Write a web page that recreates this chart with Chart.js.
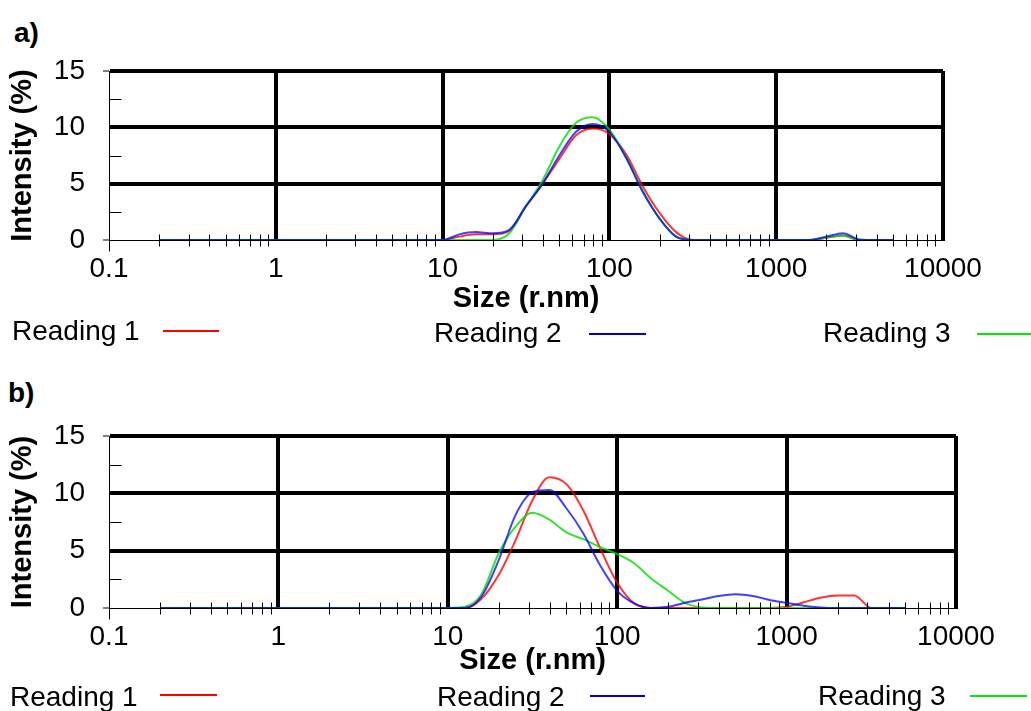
<!DOCTYPE html>
<html>
<head>
<meta charset="utf-8">
<script src="https://cdn.jsdelivr.net/npm/chart.js@4.4.0/dist/chart.umd.min.js"></script>
<style>
  body { margin: 0; width: 1031px; height: 711px; background: #fff; position: relative; overflow: hidden;
         font-family: Arial, "Liberation Sans", sans-serif; color: #000; }
  canvas { position: absolute; left: 0; }
  .tag { position: absolute; font-weight: bold; font-size: 28px; line-height: 28px; }
  .leg { position: absolute; font-size: 28px; line-height: 28px; white-space: nowrap; }
  .swatch { position: absolute; height: 2px; }
</style>
</head>
<body>
<div class="tag" style="left:14px; top:19px;">a)</div>
<canvas id="chartA" width="1031" height="320" style="top:0px"></canvas>
<div class="leg" style="left:12px; top:317px;">Reading 1</div>
<div class="swatch" style="left:163px; width:56px; top:330px; background:#ff0000;"></div>
<div class="leg" style="left:434px; top:319px;">Reading 2</div>
<div class="swatch" style="left:589px; width:57px; top:333px; background:#0000cc;"></div>
<div class="leg" style="left:823px; top:319px;">Reading 3</div>
<div class="swatch" style="left:977px; width:54px; top:333px; background:#00ee00;"></div>

<div class="tag" style="left:8px; top:379px;">b)</div>
<canvas id="chartB" width="1031" height="320" style="top:365px"></canvas>
<div class="leg" style="left:10px; top:683px;">Reading 1</div>
<div class="swatch" style="left:160px; width:57px; top:694px; background:#ff0000;"></div>
<div class="leg" style="left:437px; top:683px;">Reading 2</div>
<div class="swatch" style="left:590px; width:55px; top:695px; background:#0000cc;"></div>
<div class="leg" style="left:818px; top:682px;">Reading 3</div>
<div class="swatch" style="left:970px; width:57px; top:695px; background:#00ee00;"></div>

<script>
// size bins (r.nm), shared by every reading
const sizes = [0.2, 0.25, 0.32, 0.4, 0.5, 0.63, 0.79, 1, 1.26, 1.58, 2, 2.51, 3.16, 3.98, 5.01, 6.31, 7.94,
  10, 12.6, 15.8, 20, 25.1, 31.6, 39.8, 50.1, 63.1, 79.4, 100, 126, 158, 200, 251, 316, 398, 501, 631, 794,
  1000, 1260, 1580, 2000, 2510, 3160, 3980, 5010];

// panel a) intensity (%)
const aReading1 = [0,0,0,0,0,0,0,0,0,0,0,0,0,0,0,0,0,0, 0.3,0.5,0.5,0.8,3.0,5.0,7.2,9.3,9.9,9.4,7.6,4.8,2.4,0.7,
  0,0,0,0,0,0,0,0, 0.2,0.4, 0,0,0];
const aReading2 = [0,0,0,0,0,0,0,0,0,0,0,0,0,0,0,0,0,0, 0.5,0.7,0.6,0.9,3.0,5.0,7.5,9.6,10.3,9.6,7.3,4.3,1.9,0.3,
  0,0,0,0,0,0,0,0, 0.3,0.6,0.05, 0,0];
const aReading3 = [0,0,0,0,0,0,0,0,0,0,0,0,0,0,0,0,0,0, 0,0,0,0.6,3.0,5.3,8.3,10.4,10.9,9.8,7.3,4.4,1.9,0.3,
  0,0,0,0,0,0,0,0, 0.2,0.4, 0,0,0];

// panel b) intensity (%)
const bReading1 = [0,0,0,0,0,0,0,0,0,0,0,0,0,0,0,0,0,0,0, 0.8,2.9,5.9,9.4,11.4,10.8,8.5,5.2,2.2,0.4,
  0,0,0,0,0,0,0,0, 0.1,0.5,0.9,1.1,1.1, 0,0,0];
const bReading2 = [0,0,0,0,0,0,0,0,0,0,0,0,0,0,0,0,0,0,0, 1.0,4.2,8.1,10.1,10.3,8.7,6.5,3.7,1.5,0.4,0,0.1,
  0.45,0.75,1.05,1.2,1.05,0.7,0.45,0.2,0.05, 0,0,0,0,0];
const bReading3 = [0,0,0,0,0,0,0,0,0,0,0,0,0,0,0,0,0,0, 0.1,1.2,4.8,7.1,8.3,7.7,6.6,6.0,5.3,4.7,3.9,2.6,1.5,0.45,0.05,
  0,0,0,0,0,0,0,0,0,0,0,0];

const seriesNames = ['Reading 1', 'Reading 2', 'Reading 3'];
const xTicks = [0.1, 1, 10, 100, 1000, 10000];
const xTickLabels = ['0.1', '1', '10', '100', '1000', '10000'];
const yTicks = [0, 5, 10, 15];
const minorSteps = [2, 3, 4, 5, 6, 7, 8, 9];
const yMinor = [2.5, 7.5, 12.5];

const FONT = 'Arial, "Liberation Sans", sans-serif';

// small tick marks on the zero line and the left axis
const minorTicks = {
  id: 'minorTicks',
  afterDatasetsDraw(chart) {
    const {ctx, scales: {x, y}} = chart;
    const zero = Math.round(y.getPixelForValue(0)) + 0.5;
    const left = Math.round(x.getPixelForValue(xTicks[0])) + 0.5;
    ctx.save();
    ctx.strokeStyle = '#000';
    ctx.lineWidth = 1;
    ctx.beginPath();
    xTicks.slice(0, -1).forEach(d => {
      minorSteps.forEach(m => {
        const px = Math.round(x.getPixelForValue(d * m)) + 0.5;
        ctx.moveTo(px, zero - 6);
        ctx.lineTo(px, zero + 6);
      });
    });
    ctx.moveTo(left, zero);
    ctx.lineTo(left, zero + 11);
    yMinor.forEach(v => {
      const py = Math.round(y.getPixelForValue(v)) + 0.5;
      ctx.moveTo(left, py);
      ctx.lineTo(left + 12, py);
    });
    ctx.stroke();
    ctx.restore();
  }
};

function makeChart(id, readings, rightPad, axisHeight, titlePad) {
  const colors = ['rgba(255,0,0,0.8)', 'rgba(0,0,255,0.75)', 'rgba(0,220,0,0.8)'];
  const datasets = readings.map((vals, i) => ({
    label: seriesNames[i],
    data: sizes.map((s, j) => ({x: s, y: vals[j]})),
    borderColor: colors[i],
    borderWidth: 2,
    pointRadius: 0,
    fill: false,
    cubicInterpolationMode: 'monotone',
    order: i === 1 ? 0 : (i === 0 ? 2 : 1)
  }));

  return new Chart(document.getElementById(id), {
    type: 'line',
    data: {datasets},
    options: {
      responsive: false,
      animation: false,
      devicePixelRatio: 1,
      layout: {padding: {top: 71, right: rightPad, left: 0, bottom: 0}},
      plugins: {legend: {display: false}, tooltip: {enabled: false}},
      scales: {
        x: {
          type: 'logarithmic',
          min: 0.1,
          max: 10000,
          afterBuildTicks: scale => { scale.ticks = xTicks.map(v => ({value: v})); },
          afterFit: scale => { scale.height = axisHeight; },
          ticks: {
            autoSkip: false,
            maxRotation: 0,
            padding: 12,
            color: '#000',
            font: {family: FONT, size: 28},
            callback: (v, i) => xTickLabels[i]
          },
          grid: {
            drawTicks: false,
            lineWidth: 4,
            color: c => (c.tick && c.tick.value === 0.1) ? 'rgba(0,0,0,0)' : '#000'
          },
          border: {display: true, color: '#000', width: 1},
          title: {
            display: true,
            text: 'Size (r.nm)',
            color: '#000',
            font: {family: FONT, size: 29, weight: 'bold'},
            padding: {top: 0, bottom: titlePad}
          }
        },
        y: {
          min: 0,
          max: 15,
          afterBuildTicks: scale => { scale.ticks = yTicks.map(v => ({value: v})); },
          afterFit: scale => { scale.width = 109; },
          ticks: {
            padding: 18,
            color: '#000',
            font: {family: FONT, size: 28}
          },
          grid: {
            lineWidth: 4,
            tickLength: 6,
            tickWidth: 1,
            color: c => (c.tick && c.tick.value === 0) ? 'rgba(0,0,0,0)' : '#000',
            tickColor: c => (c.tick && (c.tick.value === 0 || c.tick.value === 15)) ? '#000' : 'rgba(0,0,0,0)'
          },
          border: {display: true, color: '#000', width: 1},
          title: {
            display: true,
            text: 'Intensity (%)',
            color: '#000',
            font: {family: FONT, size: 29, weight: 'bold'},
            padding: {top: 6, bottom: 0}
          }
        }
      }
    },
    plugins: [minorTicks]
  });
}

makeChart('chartA', [aReading1, aReading2, aReading3], 88, 80, 4);
makeChart('chartB', [bReading1, bReading2, bReading3], 75, 77, 7);
</script>
</body>
</html>
